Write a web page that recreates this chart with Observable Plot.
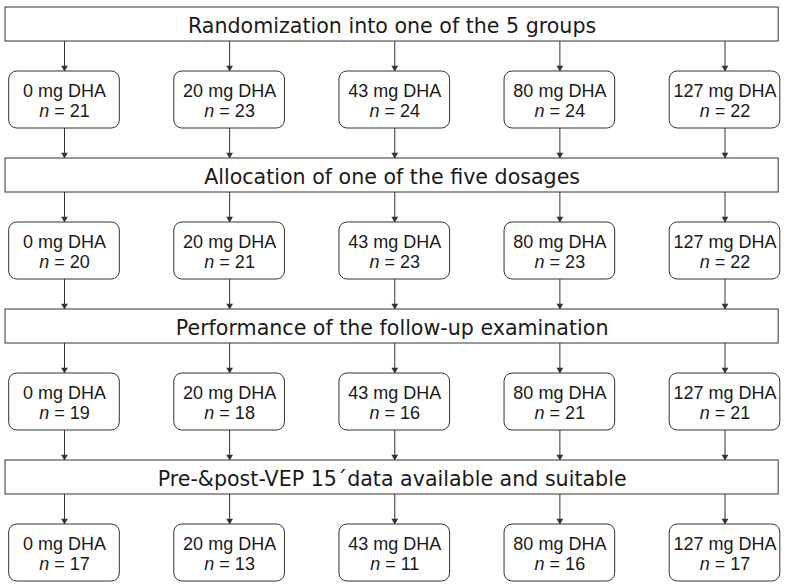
<!DOCTYPE html>
<html>
<head>
<meta charset="utf-8">
<script src="https://cdn.jsdelivr.net/npm/d3@7"></script>
<script src="https://cdn.jsdelivr.net/npm/@observablehq/plot@0.6"></script>
<style>
  html, body { margin: 0; padding: 0; background: #fff; }
  #chart svg { display: block; }
</style>
</head>
<body>
<div id="chart"></div>
<script>
// ---- data ----
const groups = ["0 mg DHA", "20 mg DHA", "43 mg DHA", "80 mg DHA", "127 mg DHA"];
const stages = [
  "Randomization into one of the 5 groups",
  "Allocation of one of the five dosages",
  "Performance of the follow-up examination",
  "Pre-&post-VEP 15\u00B4data available and suitable"
];
const nRandomized = [21, 23, 24, 24, 22];
const nAllocated  = [20, 21, 23, 23, 22];
const nFollowUp   = [19, 18, 16, 21, 21];
const nVEP        = [17, 13, 11, 16, 17];

// ---- layout (in stage units: one stage = one header + one row of boxes) ----
const ROW = 151;                 // px per stage
const u = px => px / ROW;        // px -> stage units
const HEAD_H = u(34), BOX_T = u(64), BOX_H = u(57);
const HALF_BOX = 0.335;          // half box width, column units
const HEAD_X1 = -0.357, HEAD_X2 = 4.325;

const counts = [nRandomized, nAllocated, nFollowUp, nVEP];

const headers = stages.map((label, i) => ({label, i}));
const boxes = counts.flatMap((ns, i) => ns.map((n, j) => ({i, j, group: groups[j], n})));

const arrows = [];
for (let i = 0; i < stages.length; i++) {
  for (let j = 0; j < groups.length; j++) {
    arrows.push({j, y1: i + HEAD_H, y2: i + BOX_T});
    if (i > 0) arrows.push({j, y1: (i - 1) + BOX_T + BOX_H, y2: i});
  }
}

const ink = "#333";
const textInk = "#1a1a1a";

const plot = Plot.plot({
  width: 790,
  height: 587,
  margin: 0,
  x: {type: "linear", domain: [0, 4], range: [64, 724.5], axis: null},
  y: {type: "linear", domain: [0, 3], range: [7, 7 + 3 * ROW], axis: null},
  style: {background: "#fff"},
  marks: [
    Plot.ruleX(arrows, {x: "j", y1: "y1", y2: "y2", stroke: ink, strokeWidth: 1}),
    Plot.dot(arrows, {x: "j", y: "y2", symbol: "triangle", r: 2.5, rotate: 180, fill: ink, stroke: null, dy: -3.9}),
    Plot.rect(headers, {x1: HEAD_X1, x2: HEAD_X2, y1: "i", y2: d => d.i + HEAD_H, fill: "#fff", stroke: ink, strokeWidth: 1}),
    Plot.text(headers, {x: (HEAD_X1 + HEAD_X2) / 2, y: d => d.i + u(25), text: "label", lineAnchor: "bottom",
      fontFamily: "DejaVu Sans", fontSize: 20.6, fill: textInk}),
    Plot.rect(boxes, {x1: d => d.j - HALF_BOX, x2: d => d.j + HALF_BOX, y1: d => d.i + BOX_T, y2: d => d.i + BOX_T + BOX_H,
      rx: 8, fill: "#fff", stroke: ink, strokeWidth: 1}),
    Plot.text(boxes, {x: "j", y: d => d.i + BOX_T + u(25), text: "group", lineAnchor: "bottom",
      fontFamily: "Liberation Sans, Arial, sans-serif", fontSize: 18, fill: textInk}),
    Plot.text(boxes, {x: "j", y: d => d.i + BOX_T + u(45), text: d => `n = ${d.n}`, lineAnchor: "bottom",
      fontFamily: "Liberation Sans, Arial, sans-serif", fontSize: 18, fill: textInk, className: "nline"})
  ]
});

// italicize the "n" in the sample-size lines
d3.select(plot).selectAll(".nline text").each(function () {
  const t = d3.select(this);
  const s = t.text();
  t.text(null);
  t.append("tspan").attr("font-style", "italic").text("n");
  t.append("tspan").text(s.slice(1));
});

document.getElementById("chart").appendChild(plot);
</script>
</body>
</html>
